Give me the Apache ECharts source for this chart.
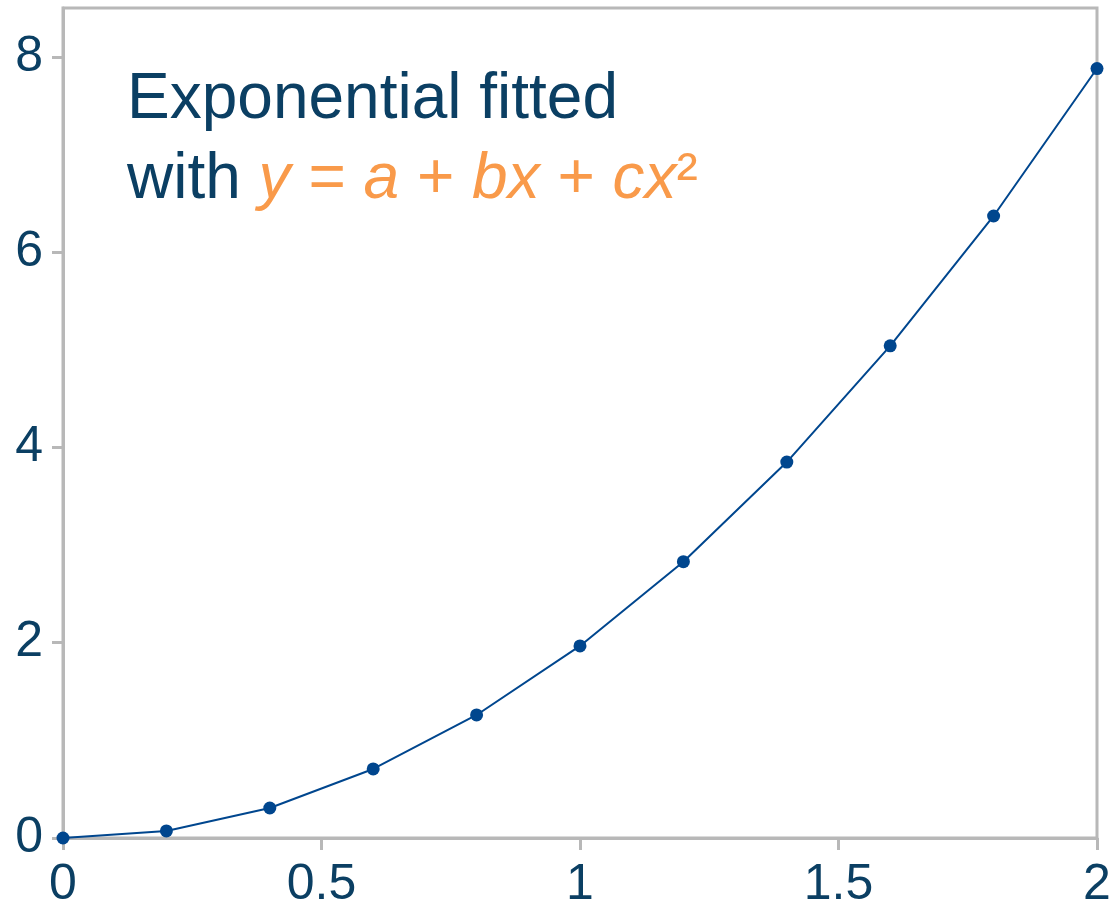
<!DOCTYPE html>
<html>
<head>
<meta charset="utf-8">
<script src="https://cdn.jsdelivr.net/npm/echarts@6/dist/echarts.min.js"></script>
<style>
  html, body { margin: 0; padding: 0; background: #fff; }
  #chart { width: 1120px; height: 910px; }
</style>
</head>
<body>
<div id="chart"></div>
<script>
// Sample points of the fitted curve
const xValues = [0, 0.2, 0.4, 0.6, 0.8, 1.0, 1.2, 1.4, 1.6, 1.8, 2.0];
const yValues = [0, 0.072, 0.307, 0.707, 1.26, 1.967, 2.83, 3.85, 5.04, 6.37, 7.88];

const textColor = '#0b3f63';
const accent = '#f99a4a';
const axisGrey = '#b8b8b8';
const lineBlue = '#00468e';
const font = 'Liberation Sans, Arial, sans-serif';

const richBase = { fontFamily: font, fontSize: 64, fontWeight: 'normal', lineHeight: 80 };

const chart = echarts.init(document.getElementById('chart'));
chart.setOption({
  animation: false,
  backgroundColor: '#ffffff',
  grid: {
    left: 63, right: 23, top: 8, bottom: 72,
    show: true, borderColor: axisGrey, borderWidth: 3
  },
  graphic: [{
    type: 'text',
    left: 127, top: 68,
    style: {
      text: '{t|Exponential fitted}\n{t|with }{i|y}{o| = }{i|a}{o| + }{i|bx}{o| + }{i|cx}{o|²}',
      rich: {
        t: Object.assign({ fill: textColor }, richBase),
        i: Object.assign({ fill: accent, fontStyle: 'italic' }, richBase),
        o: Object.assign({ fill: accent }, richBase)
      }
    }
  }],
  xAxis: {
    type: 'value', min: 0, max: 2, interval: 0.5,
    axisLine: { show: true, lineStyle: { color: axisGrey, width: 3 } },
    axisTick: { show: true, inside: false, length: 12, lineStyle: { color: axisGrey, width: 3 } },
    splitLine: { show: false },
    axisLabel: { color: textColor, fontSize: 50, fontFamily: font, margin: 22,
      formatter: v => String(v) }
  },
  yAxis: {
    type: 'value', min: 0, max: 8.5, interval: 2,
    axisLine: { show: true, lineStyle: { color: axisGrey, width: 3 } },
    axisTick: { show: true, inside: false, length: 11, lineStyle: { color: axisGrey, width: 3 } },
    splitLine: { show: false },
    axisLabel: { color: textColor, fontSize: 50, fontFamily: font, margin: 20,
      showMaxLabel: false }
  },
  series: [{
    type: 'line',
    data: xValues.map((x, i) => [x, yValues[i]]),
    symbol: 'circle', symbolSize: 13,
    lineStyle: { color: lineBlue, width: 2 },
    itemStyle: { color: lineBlue },
    clip: false
  }]
});
</script>
</body>
</html>
